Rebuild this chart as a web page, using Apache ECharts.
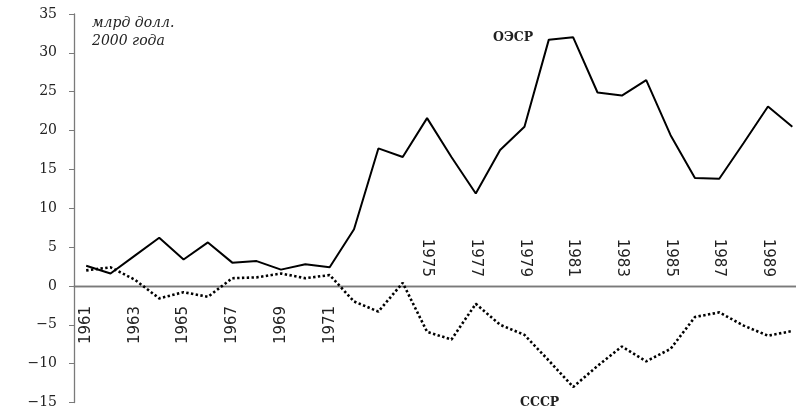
<!DOCTYPE html>
<html>
<head>
<meta charset="utf-8">
<script src="https://cdn.jsdelivr.net/npm/echarts@6/dist/echarts.min.js"></script>
<style>
  html, body { margin: 0; padding: 0; background: #fff; }
  #main { width: 796px; height: 413px; }
</style>
</head>
<body>
<div id="main"></div>
<script>
const years = []
for (let y = 1961; y <= 1990; y++) years.push(String(y))

// млрд долл. 2000 года
const oecd = [2.6, 1.6, 3.9, 6.2, 3.4, 5.6, 3.0, 3.2, 2.1, 2.8,
              2.4, 7.3, 17.7, 16.6, 21.6, 16.6, 11.9, 17.5, 20.5, 31.7,
              32.0, 24.9, 24.5, 26.5, 19.4, 13.9, 13.8, 18.4, 23.1, 20.5]
const ussr = [2.0, 2.4, 0.8, -1.6, -0.8, -1.4, 1.0, 1.1, 1.6, 1.0,
              1.4, -2.0, -3.3, 0.4, -5.9, -6.9, -2.3, -5.0, -6.3, -9.6,
              -13.0, -10.3, -7.8, -9.7, -8.1, -4.0, -3.4, -5.1, -6.4, -5.8]
const yMin = -15
const yMax = 35

const axisGray = '#7a7a7a'
const gridTop = 14
const gridBottom = 10.5
const plotH = 413 - gridTop - gridBottom
// distance of the zero line from the top / bottom edge of the grid
const zeroFromTop = plotH * yMax / (yMax - yMin)
const zeroFromBottom = plotH - zeroFromTop

const myChart = echarts.init(document.getElementById('main'))

const yearLabel = {
    rotate: 90,
    fontFamily: 'DejaVu Sans',
    fontSize: 15,
    color: '#222'
}

myChart.setOption({
    animation: false,
    grid: { left: 74, right: -8.5, top: gridTop, bottom: gridBottom, outerBoundsMode: 'none', containLabel: false },
    xAxis: [{
        type: 'category',
        data: years,
        position: 'bottom',
        offset: -zeroFromBottom,
        boundaryGap: true,
        axisLine: { onZero: false, lineStyle: { color: axisGray, width: 1.3 } },
        axisTick: { interval: 0, length: 4, lineStyle: { color: axisGray } },
        axisLabel: Object.assign({}, yearLabel, {
            margin: 20,
            interval: (i, v) => i % 2 === 0 && +v <= 1971
        })
    }, {
        type: 'category',
        data: years,
        position: 'top',
        offset: -zeroFromTop,
        boundaryGap: true,
        axisLine: { onZero: false, lineStyle: { color: axisGray, width: 1.3 } },
        axisTick: { interval: 0, length: 4, lineStyle: { color: axisGray } },
        axisLabel: Object.assign({}, yearLabel, {
            margin: 9,
            interval: (i, v) => i % 2 === 0 && +v >= 1975
        })
    }],
    yAxis: {
        type: 'value',
        min: yMin,
        max: yMax,
        interval: 5,
        splitLine: { show: false },
        axisLine: { show: true, onZero: false, lineStyle: { color: axisGray, width: 1.3 } },
        axisTick: { show: true, length: 5, lineStyle: { color: axisGray } },
        axisLabel: {
            margin: 17,
            fontFamily: 'DejaVu Serif',
            fontSize: 14,
            color: '#222',
            formatter: v => (v < 0 ? '\u2212' + Math.abs(v) : String(v))
        }
    },
    graphic: [{
        type: 'text',
        left: 92,
        top: 14,
        style: {
            text: 'млрд долл.\n2000 года',
            font: 'italic 14px "DejaVu Serif"',
            lineHeight: 18,
            fill: '#222'
        }
    }, {
        type: 'text',
        left: 493,
        top: 31,
        style: { text: 'ОЭСР', font: 'bold 12.5px "DejaVu Serif"', fill: '#222' }
    }, {
        type: 'text',
        left: 520,
        top: 396,
        style: { text: 'СССР', font: 'bold 12.5px "DejaVu Serif"', fill: '#222' }
    }],
    series: [{
        name: 'ОЭСР',
        type: 'line',
        data: oecd,
        symbol: 'none',
        lineStyle: { color: '#000', width: 2 }
    }, {
        name: 'СССР',
        type: 'line',
        data: ussr,
        symbol: 'none',
        lineStyle: { color: '#000', width: 2.6, type: [2.4, 2.4] }
    }]
})
</script>
</body>
</html>
